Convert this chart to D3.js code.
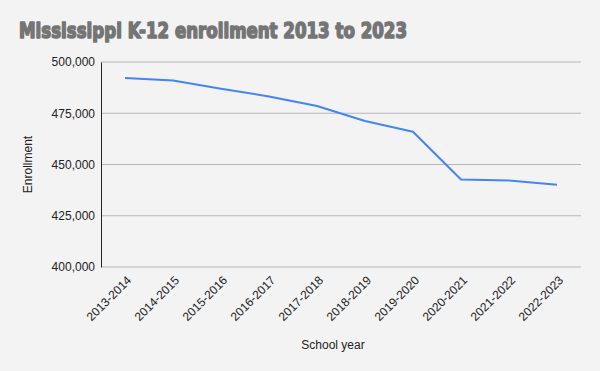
<!DOCTYPE html>
<html>
<head>
<meta charset="utf-8">
<script src="https://cdn.jsdelivr.net/npm/d3@7"></script>
<style>
  body { margin: 0; background: #f3f3f3; }
  svg { display: block; font-family: "Liberation Sans", Arial, sans-serif; }
</style>
</head>
<body>
<div id="chart"></div>
<script>
// school years on the x axis
const years = ["2013-2014", "2014-2015", "2015-2016", "2016-2017", "2017-2018",
               "2018-2019", "2019-2020", "2020-2021", "2021-2022", "2022-2023"];
// K-12 enrollment
const enrollment = [492200, 491000, 487000, 483200, 478500, 471200, 466000, 442700, 442200, 440100];
const yTicks = [400000, 425000, 450000, 475000, 500000];

const width = 600, height = 371;
const margin = {top: 62, right: 19, bottom: 104, left: 101};

let svg = d3.select("#chart").append("svg")
    .attr("width", width)
    .attr("height", height);

svg.append("rect").attr("width", width).attr("height", height).attr("fill", "#f3f3f3");

// title
svg.append("text")
    .attr("x", 19).attr("y", 37.5)
    .attr("font-family", "'DejaVu Sans', sans-serif")
    .attr("font-weight", "bold")
    .attr("font-size", 20.5)
    .attr("fill", "#757575")
    .attr("stroke", "#757575")
    .attr("stroke-width", 1.6)
    .attr("stroke-linejoin", "round")
    .attr("textLength", 388)
    .attr("lengthAdjust", "spacingAndGlyphs")
    .text("Mississippi K-12 enrollment 2013 to 2023");

let x = d3.scaleBand()
    .domain(years)
    .range([margin.left, width - margin.right]);

let y = d3.scaleLinear()
    .domain([400000, 500000])
    .range([height - margin.bottom, margin.top]);

// gridlines
svg.append("g")
    .selectAll("line")
    .data(yTicks)
    .enter().append("line")
    .attr("x1", margin.left).attr("x2", width - margin.right)
    .attr("y1", d => y(d)).attr("y2", d => y(d))
    .attr("stroke", "#b7b7b7").attr("stroke-width", 1);

// y axis
let yAxis = svg.append("g")
    .attr("transform", "translate(" + margin.left + ",0)")
    .call(d3.axisLeft(y).tickValues(yTicks).tickSize(0).tickPadding(6).tickFormat(d3.format(",")));
yAxis.select(".domain").attr("stroke", "#222");
yAxis.selectAll("text").attr("font-size", 12).attr("fill", "#222")
    .attr("font-family", "'Liberation Sans', Arial, sans-serif");

// x axis
let xAxis = svg.append("g")
    .attr("transform", "translate(0," + (height - margin.bottom) + ")")
    .call(d3.axisBottom(x).tickSize(0).tickPadding(6));
xAxis.select(".domain").remove();
xAxis.selectAll("text")
    .attr("font-size", 12).attr("fill", "#222")
    .attr("font-family", "'Liberation Sans', Arial, sans-serif")
    .attr("text-anchor", "end")
    .attr("x", -5)
    .attr("y", 15)
    .attr("dy", 0)
    .attr("transform", "rotate(-45)");

// axis titles
svg.append("text")
    .attr("transform", "translate(32," + ((margin.top + height - margin.bottom) / 2) + ") rotate(-90)")
    .attr("text-anchor", "middle")
    .attr("font-size", 12).attr("fill", "#222")
    .text("Enrollment");

svg.append("text")
    .attr("x", 333)
    .attr("y", 349)
    .attr("text-anchor", "middle")
    .attr("font-size", 12).attr("fill", "#222")
    .text("School year");

// the line
let line = d3.line()
    .x((d, i) => x(years[i]) + x.bandwidth() / 2)
    .y(d => y(d));

svg.append("path")
    .datum(enrollment)
    .attr("d", line)
    .attr("fill", "none")
    .attr("stroke", "#4285f4")
    .attr("stroke-width", 2)
    .attr("stroke-linejoin", "round");
</script>
</body>
</html>
